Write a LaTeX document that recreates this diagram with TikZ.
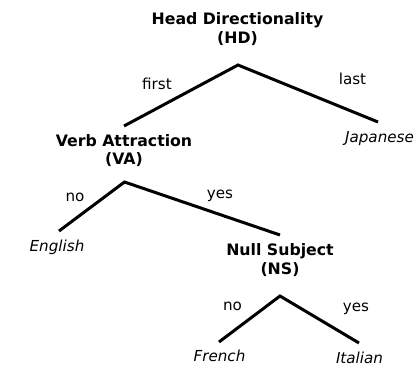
\documentclass[tikz,border=0pt]{standalone}
\usepackage{fontspec}
\setmainfont{DejaVu Sans}
\begin{document}
\begin{tikzpicture}[x=1bp,y=-1bp,
  param/.style={font=\fontsize{15.8}{18.5}\selectfont\bfseries, align=center, inner sep=0pt, anchor=base},
  lang/.style={font=\fontsize{15.2}{18}\selectfont\itshape, inner sep=0pt, anchor=base},
  val/.style={font=\fontsize{15.2}{18}\selectfont, inner sep=0pt, anchor=base},
  branch/.style={line width=3bp, line join=miter}]
\useasboundingbox (0,0) rectangle (419,367);
% parameter nodes (base anchor = baseline of the last line)
\node[param] (hd) at (237.5,43) {Head Directionality\\(HD)};
\node[param] (va) at (124,164.5) {Verb Attraction\\(VA)};
\node[param] (ns) at (280,274) {Null Subject\\(NS)};
% languages
\node[lang] (jp) at (379.5,142) {Japanese};
\node[lang] (en) at (57,251.7) {English};
\node[lang] (fr) at (219.5,361.7) {French};
\node[lang] (it) at (359.5,363) {Italian};
% values
\node[val] (first) at (157,89.3) {first};
\node[val] (last) at (352.5,84) {last};
\node[val] (vano) at (75,201) {no};
\node[val] (vayes) at (220,198) {yes};
\node[val] (nsno) at (232.5,310) {no};
\node[val] (nsyes) at (356,311) {yes};
% branch points
\coordinate (hdtop) at (238,65);
\coordinate (hdl) at (124,126);
\coordinate (hdr) at (378,122);
\coordinate (vatop) at (124.5,182);
\coordinate (val) at (59,231);
\coordinate (var) at (280,235);
\coordinate (nstop) at (280,296);
\coordinate (nsl) at (219,342);
\coordinate (nsr) at (359,343);
\draw[branch] (hdl) -- (hdtop) -- (hdr);
\draw[branch] (val) -- (vatop) -- (var);
\draw[branch] (nsl) -- (nstop) -- (nsr);
\end{tikzpicture}
\end{document}
